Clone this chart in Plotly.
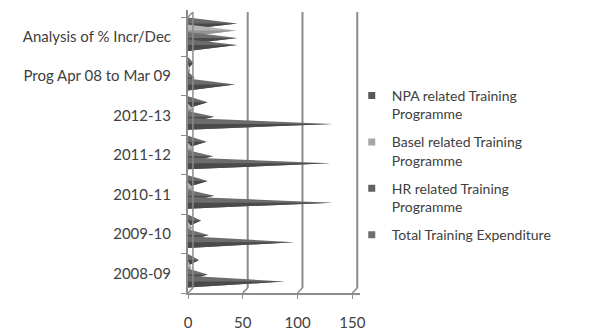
import plotly.graph_objects as go

# ---- data ----
categories = ["2008-09", "2009-10", "2010-11", "2011-12", "2012-13",
              "Prog Apr 08 to Mar 09", "Analysis of % Incr/Dec"]
npa_training = [10, 12, 18, 17, 18, 5, 45]
basel_training = [3, 4, 5, 5, 5, 2, 44]
hr_training = [18, 19, 24, 23, 24, 6, 45]
total_expenditure = [88, 97, 132, 130, 132, 43, 45]
x_ticks = [0, 50, 100, 150]

series_names = ["NPA related Training<br>Programme",
                "Basel related Training<br>Programme",
                "HR related Training<br>Programme",
                "Total Training Expenditure"]
series_values = [npa_training, basel_training, hr_training, total_expenditure]

# ---- styles ----
fill_colors = ["#6a6a6a", "#b4b4b4", "#707070", "#6c6c6c"]
shade_colors = ["#474747", "#949494", "#4c4c4c", "#4a4a4a"]
legend_colors = ["#595959", "#a6a6a6", "#626262", "#6e6e6e"]
slot_offsets = [0.34, 0.16, -0.03, -0.21]
half_base = 0.15
DEPTH_X = 4.5      # 3-D depth in x data units
DEPTH_Y = 0.13     # 3-D depth in y data units
FONT = "Lato"
TEXT = "#404040"
FRAME = "#8c8c8c"

fig = go.Figure()

for name, vals, fc, sc, off, lc in zip(series_names, series_values, fill_colors,
                                      shade_colors, slot_offsets, legend_colors):
    xs, ys, xs2, ys2 = [], [], [], []
    for i, v in enumerate(vals):
        yc = i + off
        xs += [0, v, 0, 0, None]
        ys += [yc + half_base, yc, yc - half_base, yc + half_base, None]
        xs2 += [0, v, 0, 0, None]
        ys2 += [yc, yc, yc - half_base, yc, None]
    fig.add_trace(go.Scatter(x=xs, y=ys, mode="lines", fill="toself",
                             fillcolor=fc, line=dict(width=0, color=fc),
                             showlegend=False, hoverinfo="skip"))
    fig.add_trace(go.Scatter(x=xs2, y=ys2, mode="lines", fill="toself",
                             fillcolor=sc, line=dict(width=0, color=sc),
                             showlegend=False, hoverinfo="skip"))
    fig.add_trace(go.Scatter(x=[None], y=[None], mode="markers", name=name,
                             legendgroup=name,
                             marker=dict(symbol="square", size=7, color=lc)))

n = len(categories)
shapes = []
# back wall, back floor
shapes.append(dict(type="line", xref="x", yref="y", x0=DEPTH_X, x1=DEPTH_X,
                   y0=-0.5 + DEPTH_Y, y1=n - 0.5 + DEPTH_Y,
                   line=dict(color=FRAME, width=1.5)))
shapes.append(dict(type="line", xref="x", yref="y", x0=0, x1=DEPTH_X,
                   y0=n - 0.5, y1=n - 0.5 + DEPTH_Y,
                   line=dict(color=FRAME, width=1.5)))
# gridlines on the back wall + connectors to the floor
for t in x_ticks[1:]:
    shapes.append(dict(type="line", xref="x", yref="y", x0=t + DEPTH_X, x1=t + DEPTH_X,
                       y0=-0.5 + DEPTH_Y, y1=n - 0.5 + DEPTH_Y,
                       line=dict(color=FRAME, width=2), layer="below"))
for t in x_ticks:
    shapes.append(dict(type="line", xref="x", yref="y", x0=t, x1=t + DEPTH_X,
                       y0=-0.5, y1=-0.5 + DEPTH_Y,
                       line=dict(color=FRAME, width=1.5)))

fig.update_layout(
    width=608, height=332,
    margin=dict(l=188, r=248.4, t=9.9, b=38.5, autoexpand=False),
    paper_bgcolor="white", plot_bgcolor="white",
    font=dict(family=FONT, size=15, color=TEXT),
    shapes=shapes,
    showlegend=True,
    legend=dict(x=0.952, xanchor="left", y=0.753, yanchor="top",
                font=dict(family=FONT, size=14, color=TEXT),
                tracegroupgap=7, valign="top", traceorder="grouped",
                bgcolor="rgba(0,0,0,0)"),
    xaxis=dict(range=[0, 157], tickvals=x_ticks, showgrid=False, zeroline=False,
               automargin=False,
               showline=True, linecolor=FRAME, linewidth=2,
               ticks="outside", ticklen=4, tickcolor=FRAME,
               ticklabelstandoff=11,
               tickfont=dict(family=FONT, size=15, color=TEXT)),
    yaxis=dict(range=[-0.5, n - 0.5 + 0.18], tickvals=list(range(n)),
               ticktext=categories, showgrid=False, zeroline=False,
               automargin=False,
               showline=True, linecolor=FRAME, linewidth=2, ticks="",
               ticklabelstandoff=12,
               minor=dict(tickvals=[k - 0.5 for k in range(n + 1)],
                          ticks="outside", ticklen=5, tickcolor=FRAME),
               tickfont=dict(family=FONT, size=15, color=TEXT)),
)

fig.write_html("out.html")
